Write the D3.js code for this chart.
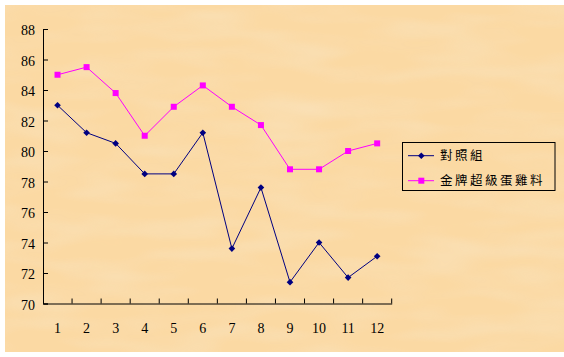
<!DOCTYPE html>
<html><head><meta charset="utf-8">
<script src="https://cdn.jsdelivr.net/npm/d3@7/dist/d3.min.js"></script>
<style>body{margin:0;background:#fff}svg{display:block}</style>
</head><body><svg id="c" width="564" height="357"></svg>
<script>
const categories = ["1","2","3","4","5","6","7","8","9","10","11","12"];
const seriesNames = ["對照組","金牌超級蛋雞料"];
const control = [83.0,81.2,80.5,78.5,78.5,81.2,73.6,77.6,71.4,74.0,71.7,73.1];
const feed    = [85.0,85.5,83.8,81.0,82.9,84.3,82.9,81.7,78.8,78.8,80.0,80.5];
const yTicks = [70,72,74,76,78,80,82,84,86,88];

const svg = d3.select("#c");
const defs = svg.append("defs");
const f = defs.append("filter").attr("id","sand").attr("x",0).attr("y",0).attr("width","100%").attr("height","100%");
f.append("feTurbulence").attr("type","fractalNoise").attr("baseFrequency","0.012 0.05").attr("numOctaves",2).attr("seed",3).attr("result","n");
f.append("feColorMatrix").attr("in","n").attr("type","matrix")
 .attr("values","0 0 0 0 0.95  0 0 0 0 0.77  0 0 0 0 0.52  0 0 0 -1.6 1.0").attr("result","c");
f.append("feComposite").attr("in","c").attr("in2","SourceGraphic").attr("operator","in");

svg.append("rect").attr("x",5).attr("y",5).attr("width",559).attr("height",347).attr("fill","#FBD9A3");
svg.append("rect").attr("x",5).attr("y",5).attr("width",559).attr("height",347).attr("fill","#FBD9A3").attr("filter","url(#sand)").attr("opacity",0.7);

const L = 43, R = 391.7, T = 29, B = 303.5;
const x = d3.scaleBand().domain(categories).range([L,R]);
const y = d3.scaleLinear().domain([70,88]).range([B,T]);

// y axis
const ya = svg.append("g").attr("transform",`translate(${L},0)`)
  .call(d3.axisLeft(y).tickValues(yTicks).tickSize(-5).tickPadding(8).tickFormat(d3.format("d")));
ya.select(".domain").attr("stroke","#000");
ya.selectAll(".tick line").attr("stroke","#000");
ya.selectAll("text").attr("font-family","Liberation Serif, serif").attr("font-size",14).attr("fill","#000").attr("dy","0.4em");

// x axis
const xa = svg.append("g").attr("transform",`translate(0,${B})`)
  .call(d3.axisBottom(x).tickSize(0).tickPadding(20));
xa.select(".domain").attr("stroke","#000");
xa.selectAll("text").attr("font-family","Liberation Serif, serif").attr("font-size",14).attr("fill","#000");
xa.selectAll(".bt").data(categories).enter().append("line")
  .attr("x1",d=>x(d)+x.bandwidth()).attr("x2",d=>x(d)+x.bandwidth())
  .attr("y1",0).attr("y2",-5).attr("stroke","#000");

const cx = d=>x(d)+x.bandwidth()/2;
const line = d3.line().x((d,i)=>cx(categories[i])).y(d=>y(d));

const colors = ["#000080","#FF00FF"];
const datasets = [control, feed];
datasets.forEach((ds,k)=>{
  svg.append("path").datum(ds).attr("d",line).attr("fill","none").attr("stroke",colors[k]).attr("stroke-width",1);
});
svg.selectAll(".m0").data(control).enter().append("path")
  .attr("d",d3.symbol().type(d3.symbolSquare).size(22)).attr("transform",(d,i)=>`translate(${cx(categories[i])},${y(d)}) rotate(45)`)
  .attr("fill",colors[0]);
svg.selectAll(".m1").data(feed).enter().append("rect")
  .attr("x",(d,i)=>cx(categories[i])-3).attr("y",d=>y(d)-3).attr("width",6).attr("height",6)
  .attr("fill",colors[1]);

// legend
const lg = svg.append("g");
lg.append("rect").attr("x",402.5).attr("y",142.5).attr("width",152.5).attr("height",48).attr("fill","none").attr("stroke","#000");
const rowY = [155.7,180.7];
seriesNames.forEach((n,k)=>{
  lg.append("line").attr("x1",408).attr("x2",434).attr("y1",rowY[k]).attr("y2",rowY[k]).attr("stroke",colors[k]);
  if(k===0){
    lg.append("path").attr("d",d3.symbol().type(d3.symbolSquare).size(22)()).attr("transform",`translate(421.3,${rowY[k]}) rotate(45)`).attr("fill",colors[k]);
  } else {
    lg.append("rect").attr("x",418.3).attr("y",rowY[k]-3).attr("width",6).attr("height",6).attr("fill",colors[k]);
  }
  lg.append("text").attr("x",440).attr("y",rowY[k]).attr("dy","0.38em")
    .attr("font-family","Noto Sans CJK TC, sans-serif").attr("font-size",12.5).attr("letter-spacing","2.5px").attr("fill","#000").text(n);
});
</script></body></html>
